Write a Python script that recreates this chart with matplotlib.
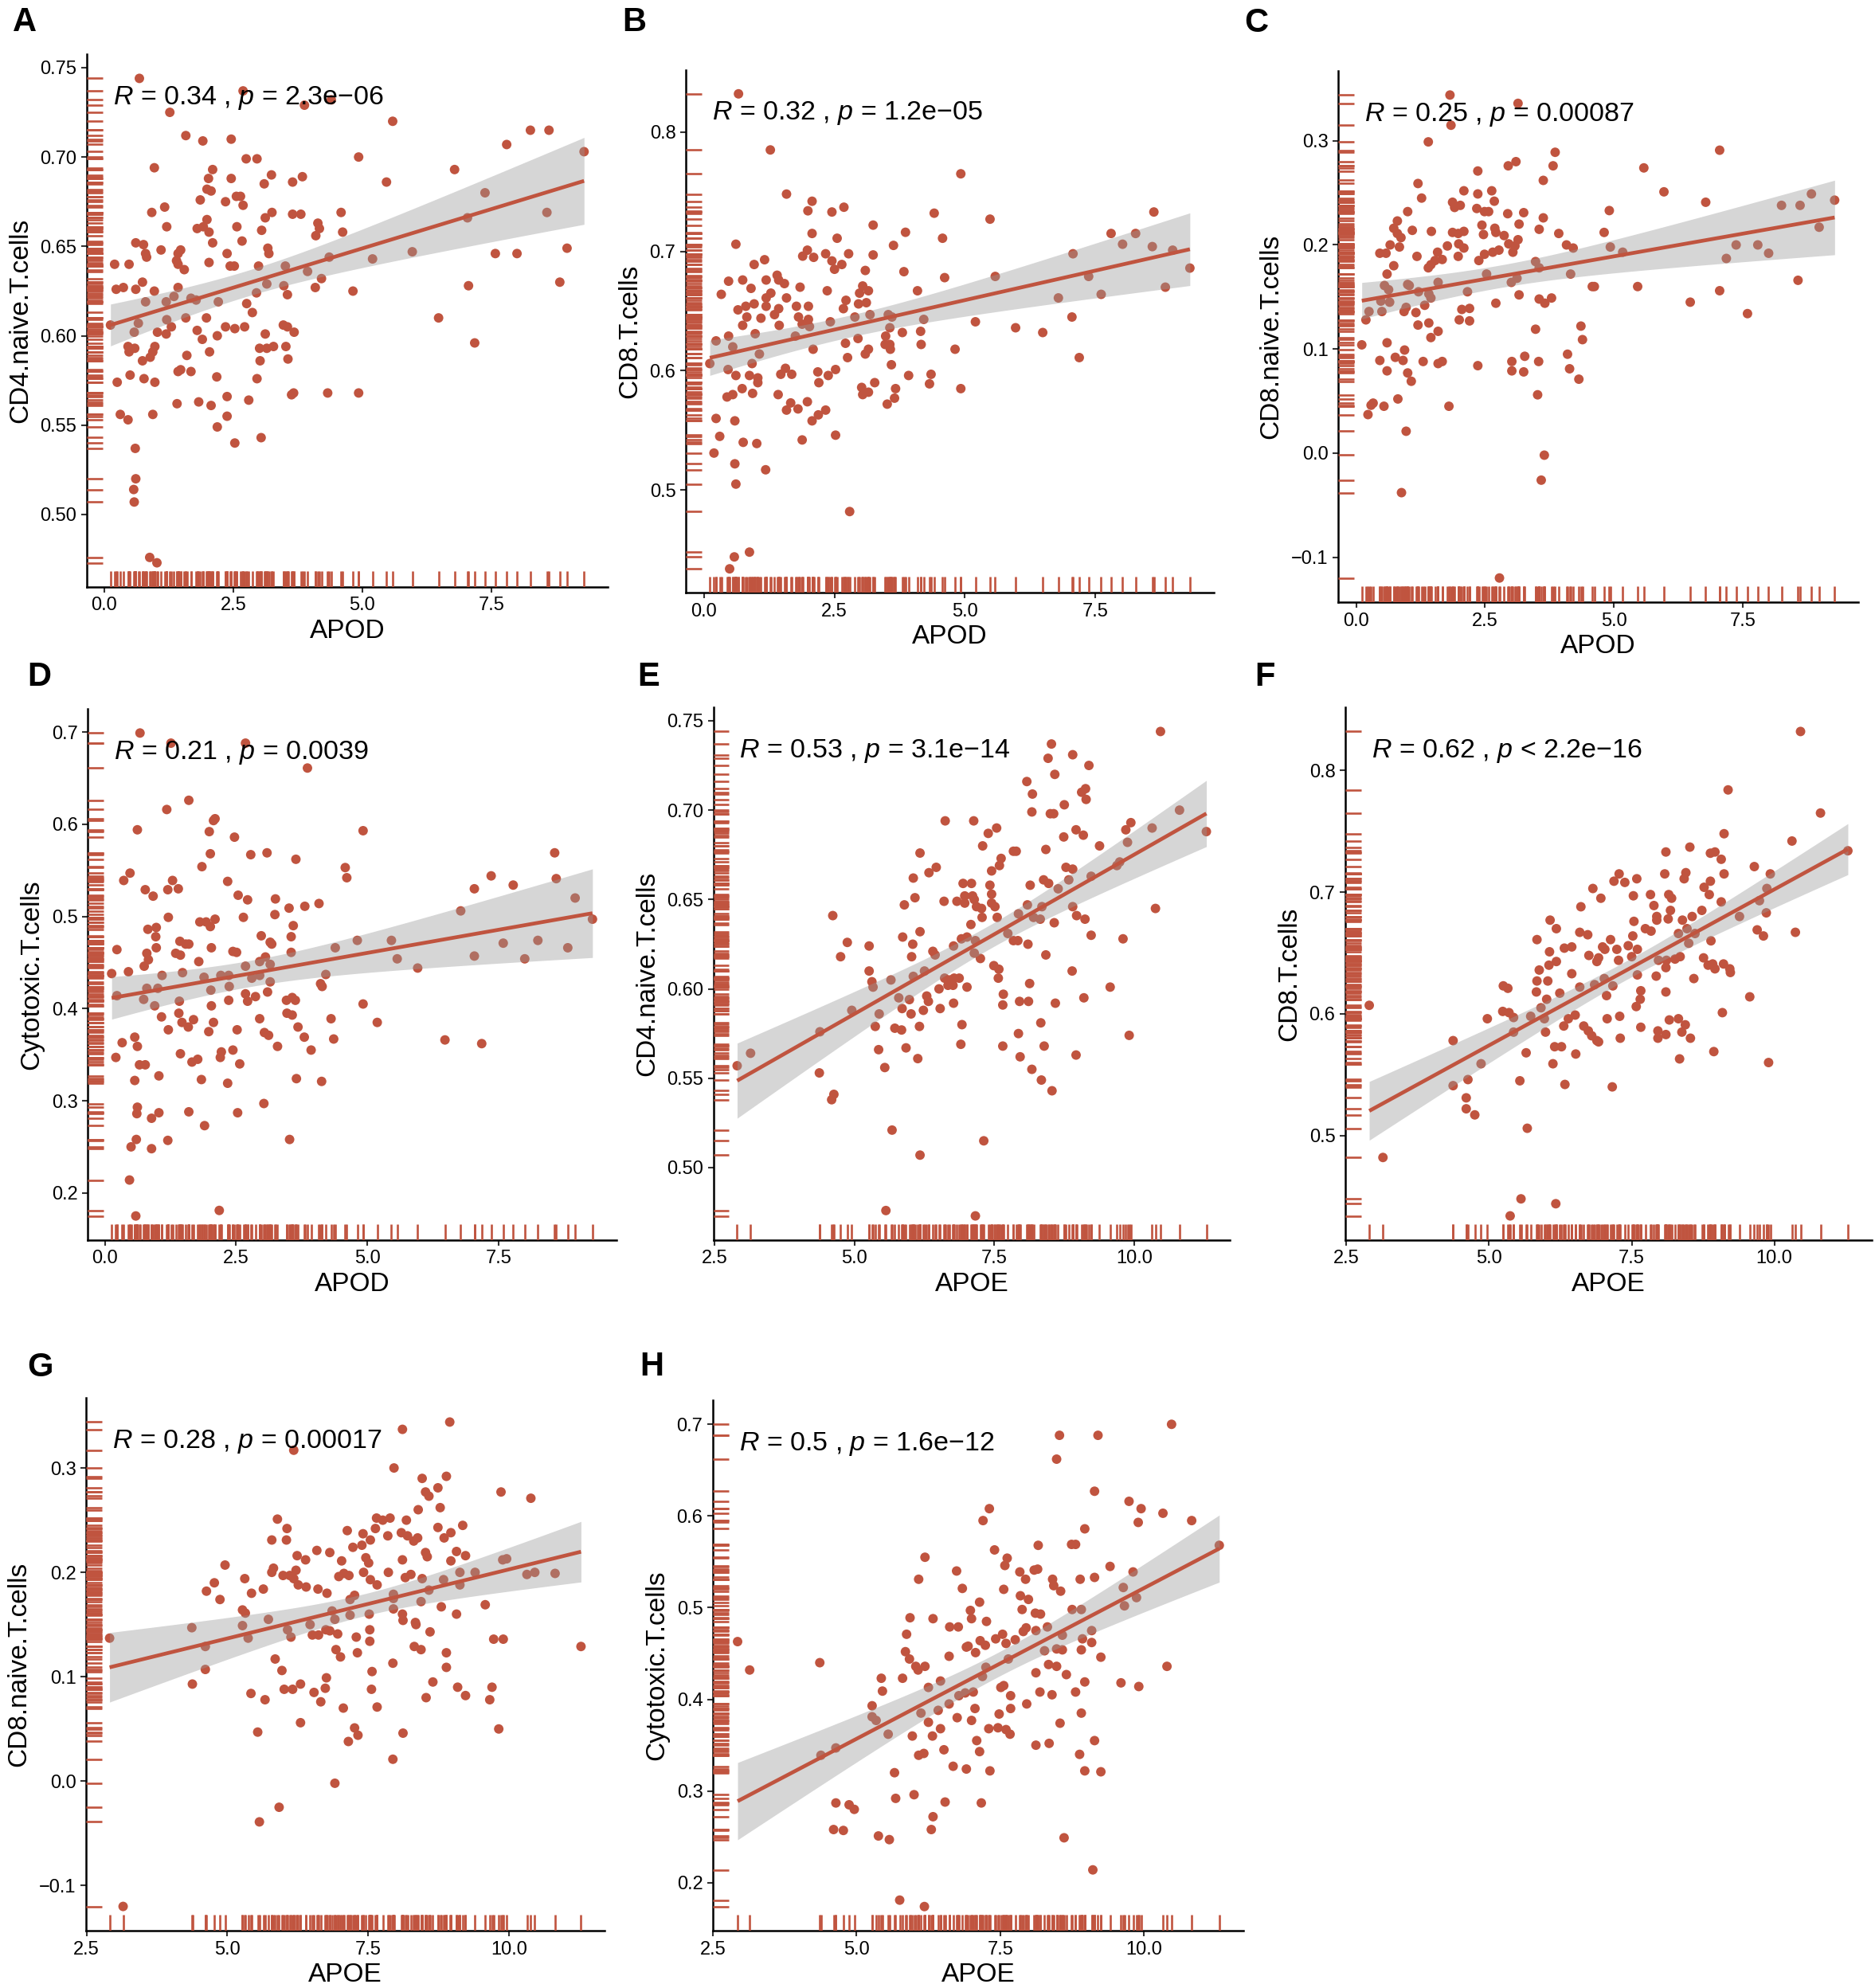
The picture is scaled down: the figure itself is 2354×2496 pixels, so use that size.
import numpy as np
import matplotlib
matplotlib.use('Agg')
import matplotlib.pyplot as plt

plt.rcParams['font.family'] = ['Liberation Sans', 'DejaVu Sans']
plt.rcParams['mathtext.fontset'] = 'custom'
plt.rcParams['mathtext.rm'] = 'Liberation Sans'
plt.rcParams['mathtext.it'] = 'Liberation Sans:italic'

# ---------------- data ----------------
panel_letters = ['A', 'B', 'C', 'D', 'E', 'F', 'G', 'H']
x_names = ['APOD', 'APOD', 'APOD', 'APOD', 'APOE', 'APOE', 'APOE', 'APOE']
y_names = ['CD4.naive.T.cells', 'CD8.T.cells', 'CD8.naive.T.cells', 'Cytotoxic.T.cells',
           'CD4.naive.T.cells', 'CD8.T.cells', 'CD8.naive.T.cells', 'Cytotoxic.T.cells']
stat_labels = [
    r'$R$ = 0.34 , $p$ = 2.3e−06',
    r'$R$ = 0.32 , $p$ = 1.2e−05',
    r'$R$ = 0.25 , $p$ = 0.00087',
    r'$R$ = 0.21 , $p$ = 0.0039',
    r'$R$ = 0.53 , $p$ = 3.1e−14',
    r'$R$ = 0.62 , $p$ < 2.2e−16',
    r'$R$ = 0.28 , $p$ = 0.00017',
    r'$R$ = 0.5 , $p$ = 1.6e−12',
]
x_ticks_apod = [0.0, 2.5, 5.0, 7.5]
x_ticklabels_apod = ['0.0', '2.5', '5.0', '7.5']
x_ticks_apoe = [2.5, 5.0, 7.5, 10.0]
x_ticklabels_apoe = ['2.5', '5.0', '7.5', '10.0']
y_ticks_cd4naive = [0.50, 0.55, 0.60, 0.65, 0.70, 0.75]
y_ticklabels_cd4naive = ['0.50', '0.55', '0.60', '0.65', '0.70', '0.75']
y_ticks_cd8 = [0.5, 0.6, 0.7, 0.8]
y_ticklabels_cd8 = ['0.5', '0.6', '0.7', '0.8']
y_ticks_cd8naive = [-0.1, 0.0, 0.1, 0.2, 0.3]
y_ticklabels_cd8naive = ['−0.1', '0.0', '0.1', '0.2', '0.3']
y_ticks_cyto = [0.2, 0.3, 0.4, 0.5, 0.6, 0.7]
y_ticklabels_cyto = ['0.2', '0.3', '0.4', '0.5', '0.6', '0.7']

apod_cd4naive = [
(0.68,0.744),(2.69,0.737),(3.88,0.729),(4.40,0.732),(1.27,0.725),(5.59,0.720),(8.26,0.715),(8.62,0.715),
(1.58,0.712),(1.91,0.709),(2.46,0.710),(7.80,0.707),(9.30,0.703),(4.93,0.700),(2.75,0.699),(2.96,0.699),
(0.97,0.694),(2.10,0.693),(6.79,0.693),(3.24,0.690),(2.02,0.688),(2.46,0.688),(3.84,0.689),(3.65,0.686),
(5.47,0.686),(3.10,0.685),(1.99,0.682),(2.07,0.681),(7.38,0.680),(1.86,0.676),(2.35,0.675),(2.56,0.678),
(2.64,0.678),(2.69,0.673),(1.17,0.672),(0.92,0.669),(3.25,0.669),(3.65,0.668),(3.81,0.668),(4.59,0.669),
(7.04,0.666),(8.58,0.669),(3.12,0.666),(1.99,0.665),(1.80,0.660),(1.92,0.661),(2.03,0.658),(1.21,0.661),
(2.57,0.661),(3.05,0.659),(4.14,0.663),(4.17,0.660),(4.10,0.656),(4.62,0.658),(2.10,0.652),(2.67,0.653),
(0.61,0.652),(0.76,0.651),(0.80,0.646),(0.82,0.644),(1.10,0.648),(1.48,0.648),(1.43,0.646),(2.38,0.646),
(3.17,0.649),(3.19,0.646),(8.97,0.649),(7.58,0.646),(8.00,0.646),(5.97,0.647),(5.20,0.643),(4.36,0.644),
(0.20,0.640),(0.48,0.640),(1.40,0.642),(1.43,0.640),(1.55,0.637),(2.03,0.641),(2.44,0.639),(2.52,0.639),
(2.99,0.639),(3.51,0.639),(3.94,0.636),(0.74,0.630),(8.83,0.630),(0.23,0.626),(0.37,0.627),(0.61,0.626),
(0.97,0.625),(1.43,0.627),(3.15,0.629),(3.48,0.628),(2.95,0.624),(3.55,0.623),(4.09,0.627),(4.21,0.632),
(4.82,0.625),(7.06,0.628),(0.80,0.619),(1.35,0.622),(1.20,0.619),(1.68,0.621),(1.78,0.620),(2.21,0.619),
(2.76,0.618),(2.87,0.613),(0.12,0.606),(0.66,0.607),(1.21,0.609),(1.58,0.610),(1.30,0.605),(1.98,0.610),
(2.35,0.605),(2.53,0.604),(2.72,0.605),(3.47,0.606),(3.55,0.605),(3.68,0.602),(3.12,0.601),(1.03,0.602),
(1.20,0.601),(1.80,0.603),(0.58,0.602),(2.19,0.600),(1.90,0.598),(6.48,0.610),(7.18,0.596),(0.46,0.594),
(0.48,0.591),(0.59,0.593),(0.98,0.594),(0.94,0.591),(3.01,0.593),(3.15,0.593),(3.28,0.594),(3.52,0.594),
(2.04,0.591),(0.74,0.586),(0.89,0.588),(1.60,0.589),(3.02,0.586),(3.56,0.587),(1.43,0.580),(1.48,0.581),
(1.68,0.580),(0.50,0.578),(0.77,0.576),(0.98,0.574),(0.25,0.574),(2.18,0.577),(2.96,0.576),(1.41,0.562),
(1.83,0.563),(2.07,0.561),(2.38,0.566),(2.80,0.564),(3.63,0.567),(3.67,0.568),(4.33,0.568),(4.93,0.568),
(0.31,0.556),(0.46,0.553),(0.94,0.556),(2.38,0.555),(2.19,0.549),(2.53,0.540),(3.04,0.543),(0.60,0.537),
(0.61,0.520),(0.57,0.514),(0.58,0.507),(0.88,0.476),(1.02,0.473)]

apod_cd8 = [
(0.66,0.832),(1.27,0.785),(4.92,0.765),(1.58,0.748),(2.07,0.742),(1.99,0.734),(2.45,0.733),(2.68,0.737),
(4.41,0.732),(5.48,0.727),(8.62,0.733),(3.24,0.722),(3.86,0.716),(2.07,0.715),(2.55,0.711),(4.57,0.711),
(7.80,0.715),(8.27,0.715),(0.61,0.706),(3.63,0.705),(8.02,0.706),(8.59,0.704),(8.98,0.701),(1.98,0.701),
(2.33,0.698),(2.77,0.698),(7.07,0.698),(1.89,0.696),(2.10,0.695),(3.24,0.697),(1.16,0.693),(2.45,0.692),
(2.64,0.689),(0.96,0.689),(2.50,0.685),(3.09,0.684),(3.83,0.683),(9.31,0.686),(0.47,0.675),(0.74,0.676),
(1.19,0.676),(1.40,0.680),(1.43,0.676),(1.54,0.673),(1.84,0.670),(0.90,0.669),(2.36,0.667),(3.04,0.671),
(3.15,0.667),(2.98,0.665),(4.09,0.667),(4.61,0.678),(5.58,0.679),(7.37,0.679),(8.84,0.670),(0.33,0.664),
(1.28,0.665),(1.19,0.661),(1.58,0.661),(6.79,0.661),(7.61,0.664),(2.72,0.659),(3.11,0.657),(2.96,0.656),
(0.65,0.651),(0.80,0.654),(0.96,0.656),(1.19,0.654),(1.43,0.652),(1.35,0.647),(1.77,0.654),(2.00,0.654),
(2.67,0.652),(0.82,0.645),(1.09,0.644),(1.81,0.645),(2.00,0.643),(2.89,0.645),(3.18,0.647),(3.53,0.647),
(3.60,0.645),(2.42,0.641),(4.21,0.643),(0.74,0.638),(1.44,0.638),(1.88,0.639),(2.02,0.637),(3.56,0.636),
(5.20,0.641),(5.97,0.636),(7.05,0.645),(0.98,0.631),(1.75,0.629),(3.48,0.629),(3.80,0.632),(4.15,0.633),
(6.49,0.632),(0.23,0.625),(0.47,0.629),(0.55,0.620),(2.71,0.623),(2.95,0.627),(3.47,0.622),(3.56,0.622),
(4.16,0.622),(2.09,0.618),(3.15,0.618),(3.09,0.614),(3.57,0.618),(1.06,0.614),(2.75,0.611),(4.81,0.618),
(7.19,0.611),(0.11,0.606),(0.92,0.606),(3.59,0.605),(0.46,0.601),(1.56,0.602),(2.52,0.601),(0.61,0.596),
(0.87,0.596),(1.03,0.594),(1.47,0.597),(1.68,0.597),(2.18,0.599),(2.38,0.596),(3.92,0.596),(4.35,0.597),
(1.03,0.590),(2.20,0.590),(3.27,0.590),(4.32,0.589),(0.73,0.585),(3.02,0.586),(3.67,0.585),(4.92,0.585),
(0.93,0.581),(3.04,0.580),(3.15,0.582),(1.42,0.580),(0.55,0.580),(0.44,0.578),(3.65,0.577),(1.98,0.574),
(1.66,0.573),(3.51,0.572),(1.58,0.567),(1.80,0.568),(2.33,0.567),(2.19,0.563),(2.07,0.558),(0.23,0.560),
(0.59,0.558),(0.30,0.545),(2.52,0.546),(1.88,0.542),(0.75,0.540),(1.01,0.539),(0.19,0.531),(0.59,0.522),
(1.18,0.517),(0.61,0.505),(2.79,0.482),(0.87,0.448),(0.58,0.444),(0.49,0.434)]

apod_cd8naive = [
(1.82,0.344),(3.14,0.336),(1.84,0.315),(1.40,0.299),(7.05,0.291),(3.86,0.289),(3.10,0.280),(2.95,0.276),
(3.82,0.276),(5.58,0.274),(2.36,0.271),(1.20,0.259),(3.63,0.262),(5.97,0.251),(8.83,0.249),(1.27,0.245),
(2.09,0.252),(2.36,0.249),(2.63,0.252),(2.68,0.242),(9.28,0.243),(6.78,0.241),(1.87,0.241),(2.02,0.238),
(1.91,0.236),(8.25,0.238),(8.61,0.238),(1.00,0.232),(2.34,0.235),(2.49,0.232),(2.57,0.232),(2.94,0.230),
(3.25,0.231),(4.91,0.233),(3.63,0.226),(0.80,0.223),(3.16,0.220),(2.44,0.219),(8.98,0.217),(0.73,0.216),
(1.09,0.214),(1.46,0.213),(2.69,0.216),(3.55,0.215),(2.71,0.212),(1.87,0.212),(1.98,0.211),(2.09,0.213),
(0.80,0.211),(0.87,0.207),(4.81,0.212),(3.93,0.211),(2.47,0.210),(2.87,0.209),(3.14,0.205),(0.66,0.200),
(0.84,0.198),(1.77,0.199),(1.99,0.201),(2.09,0.197),(2.96,0.201),(3.08,0.199),(4.08,0.200),(4.21,0.197),
(4.93,0.198),(7.37,0.200),(7.79,0.200),(0.46,0.192),(0.58,0.192),(1.58,0.193),(2.77,0.195),(2.65,0.193),
(2.49,0.191),(3.04,0.193),(5.17,0.193),(8.00,0.192),(1.18,0.189),(1.98,0.189),(1.53,0.185),(1.67,0.186),
(2.38,0.185),(7.18,0.187),(3.48,0.184),(3.55,0.178),(0.73,0.180),(1.40,0.178),(1.45,0.181),(0.60,0.172),
(2.53,0.172),(4.16,0.172),(1.59,0.164),(3.01,0.164),(3.12,0.168),(8.57,0.166),(0.55,0.161),(0.63,0.157),
(1.00,0.162),(1.03,0.161),(4.58,0.160),(4.62,0.160),(5.46,0.160),(1.21,0.155),(1.41,0.153),(2.16,0.155),
(7.05,0.156),(3.16,0.152),(0.48,0.146),(0.65,0.145),(1.45,0.149),(3.55,0.148),(3.79,0.149),(3.66,0.144),
(2.71,0.144),(6.48,0.145),(1.33,0.142),(0.25,0.136),(0.50,0.136),(0.97,0.140),(0.93,0.136),(1.16,0.135),
(2.05,0.138),(2.20,0.139),(7.59,0.134),(0.19,0.128),(2.00,0.128),(2.20,0.127),(1.20,0.123),(1.41,0.125),
(4.36,0.122),(3.48,0.119),(1.59,0.117),(1.45,0.111),(4.39,0.109),(0.60,0.106),(0.11,0.104),(0.94,0.099),
(4.10,0.095),(3.27,0.093),(0.46,0.089),(0.76,0.092),(0.91,0.089),(1.30,0.088),(1.67,0.088),(1.59,0.086),
(3.02,0.088),(3.54,0.088),(2.36,0.084),(0.60,0.079),(3.02,0.079),(3.25,0.078),(4.14,0.081),(1.00,0.077),
(1.07,0.069),(4.32,0.071),(3.52,0.056),(0.81,0.052),(0.33,0.048),(0.54,0.045),(0.29,0.046),(1.80,0.045),
(0.23,0.037),(0.97,0.021),(3.65,-0.002),(3.59,-0.026),(0.88,-0.038),(2.78,-0.120)]

apod_cyto = [
(0.67,0.699),(1.26,0.688),(2.68,0.688),(3.86,0.661),(1.60,0.626),(1.18,0.616),(2.10,0.606),(2.07,0.604),
(0.62,0.594),(4.92,0.593),(1.99,0.592),(2.47,0.586),(2.01,0.568),(3.09,0.569),(2.78,0.567),(3.64,0.562),
(8.57,0.569),(1.85,0.554),(4.58,0.553),(4.61,0.542),(0.48,0.547),(0.36,0.539),(1.29,0.539),(2.34,0.538),
(7.36,0.544),(8.60,0.541),(0.77,0.529),(1.20,0.529),(1.40,0.530),(7.04,0.530),(7.78,0.534),(0.92,0.522),
(2.54,0.523),(2.72,0.518),(3.25,0.519),(8.96,0.520),(3.51,0.509),(3.81,0.511),(4.08,0.514),(6.78,0.506),
(3.24,0.502),(1.21,0.499),(2.64,0.499),(2.10,0.497),(1.81,0.494),(1.93,0.494),(2.01,0.489),(9.29,0.497),
(3.59,0.490),(0.82,0.486),(0.98,0.488),(0.97,0.478),(2.98,0.479),(3.55,0.478),(1.43,0.473),(1.54,0.470),
(1.60,0.470),(3.15,0.472),(3.18,0.470),(4.81,0.474),(5.46,0.474),(7.59,0.471),(8.25,0.474),(0.23,0.464),
(0.98,0.466),(2.03,0.466),(2.44,0.462),(2.51,0.461),(3.55,0.461),(4.39,0.466),(8.82,0.466),(0.80,0.460),
(1.35,0.460),(1.44,0.458),(3.06,0.456),(7.04,0.457),(5.57,0.454),(8.00,0.454),(0.83,0.453),(1.79,0.451),
(2.95,0.451),(0.75,0.446),(2.68,0.446),(3.15,0.448),(5.96,0.444),(0.45,0.440),(0.13,0.438),(1.48,0.439),
(1.09,0.436),(1.89,0.434),(2.21,0.436),(2.36,0.436),(2.80,0.433),(2.95,0.436),(4.21,0.437),(3.15,0.429),
(4.11,0.427),(4.14,0.424),(0.80,0.422),(1.01,0.422),(2.02,0.420),(2.37,0.424),(0.23,0.414),(2.68,0.416),
(2.87,0.413),(3.10,0.418),(0.74,0.410),(1.42,0.408),(2.36,0.409),(2.72,0.408),(3.46,0.409),(3.57,0.412),
(3.63,0.409),(0.95,0.403),(2.03,0.403),(4.92,0.405),(3.47,0.395),(1.41,0.395),(3.57,0.393),(1.08,0.391),
(1.69,0.388),(2.95,0.389),(4.31,0.389),(1.47,0.385),(2.07,0.385),(5.19,0.385),(1.59,0.380),(3.68,0.380),
(1.21,0.377),(2.52,0.377),(1.98,0.375),(3.04,0.374),(3.12,0.371),(0.57,0.369),(3.80,0.369),(4.36,0.367),
(6.48,0.366),(7.18,0.362),(0.33,0.363),(0.62,0.359),(3.29,0.359),(3.93,0.355),(2.44,0.355),(2.22,0.353),
(1.44,0.351),(0.21,0.347),(2.20,0.347),(1.77,0.345),(1.66,0.342),(2.57,0.340),(0.66,0.339),(0.77,0.339),
(1.03,0.327),(0.57,0.322),(1.84,0.323),(3.65,0.324),(4.13,0.321),(2.34,0.319),(3.03,0.297),(0.62,0.293),
(0.61,0.286),(1.60,0.288),(1.03,0.287),(2.53,0.287),(0.89,0.281),(1.90,0.273),(1.20,0.257),(0.60,0.258),
(3.52,0.258),(0.50,0.250),(0.89,0.248),(0.47,0.214),(2.18,0.181),(0.59,0.175)]

apoe_cd4naive = [
(10.47,0.744),(8.52,0.737),(8.90,0.731),(8.46,0.729),(9.19,0.725),(8.58,0.720),(8.08,0.716),(9.13,0.712),
(8.18,0.709),(9.06,0.710),(9.14,0.706),(8.75,0.703),(8.17,0.699),(8.50,0.698),(8.56,0.698),(10.81,0.700),
(6.62,0.694),(7.13,0.694),(9.94,0.693),(7.54,0.690),(7.39,0.687),(8.96,0.689),(9.09,0.686),(8.74,0.685),
(9.85,0.689),(10.32,0.690),(11.29,0.688),(9.88,0.682),(7.29,0.680),(9.38,0.680),(8.42,0.678),(7.84,0.677),
(7.89,0.677),(6.17,0.676),(7.62,0.673),(7.59,0.669),(8.78,0.668),(8.90,0.667),(9.69,0.669),(9.74,0.671),
(6.46,0.668),(6.33,0.665),(7.45,0.666),(6.05,0.662),(9.23,0.663),(8.38,0.661),(8.47,0.659),(8.83,0.661),
(6.94,0.659),(7.09,0.659),(7.42,0.658),(8.14,0.658),(8.64,0.656),(6.08,0.651),(6.97,0.652),(7.11,0.652),
(7.45,0.653),(6.60,0.649),(6.83,0.649),(6.97,0.648),(7.14,0.650),(7.45,0.648),(7.51,0.646),(7.18,0.646),
(7.27,0.645),(5.89,0.647),(8.09,0.647),(8.35,0.646),(8.90,0.646),(10.38,0.645),(4.61,0.641),(7.28,0.640),
(7.55,0.640),(7.93,0.642),(8.20,0.640),(8.32,0.639),(8.97,0.641),(9.12,0.639),(8.57,0.637),(7.08,0.636),
(6.17,0.632),(7.74,0.631),(5.86,0.629),(6.91,0.628),(7.01,0.629),(9.23,0.630),(9.80,0.628),(4.87,0.626),
(7.16,0.627),(7.84,0.627),(7.92,0.627),(6.04,0.625),(5.26,0.624),(6.77,0.624),(8.10,0.625),(6.40,0.621),
(6.44,0.619),(7.14,0.620),(4.75,0.618),(6.02,0.618),(7.25,0.617),(8.42,0.619),(7.49,0.613),(5.26,0.610),
(7.58,0.611),(8.89,0.610),(5.31,0.604),(5.33,0.601),(5.65,0.605),(6.05,0.607),(6.25,0.610),(6.61,0.606),
(6.70,0.605),(6.78,0.606),(6.87,0.606),(6.67,0.602),(6.76,0.602),(6.51,0.600),(7.01,0.601),(7.57,0.606),
(8.13,0.603),(9.57,0.601),(5.79,0.595),(5.98,0.594),(6.29,0.596),(6.32,0.593),(7.66,0.597),(9.10,0.595),
(5.85,0.589),(4.95,0.588),(5.44,0.586),(6.01,0.586),(6.23,0.588),(6.53,0.589),(6.77,0.592),(7.65,0.591),
(7.95,0.593),(8.11,0.593),(8.59,0.592),(4.38,0.576),(5.37,0.579),(5.72,0.578),(5.84,0.577),(6.16,0.579),
(6.92,0.580),(8.33,0.581),(7.93,0.575),(9.91,0.574),(6.90,0.569),(7.65,0.568),(8.39,0.568),(5.43,0.566),
(5.92,0.567),(3.14,0.564),(7.96,0.562),(8.96,0.563),(6.13,0.561),(2.90,0.557),(5.54,0.556),(8.17,0.555),
(4.37,0.553),(8.34,0.549),(8.53,0.543),(4.63,0.541),(4.59,0.538),(5.67,0.521),(7.31,0.515),(6.17,0.507),
(5.56,0.476),(7.16,0.473)]

apoe_cd8 = [
(10.46,0.832),(9.19,0.784),(10.81,0.765),(9.12,0.748),(10.31,0.742),(8.52,0.737),(8.10,0.733),(8.88,0.732),
(8.96,0.733),(11.29,0.734),(9.07,0.727),(9.65,0.721),(7.28,0.715),(8.08,0.715),(8.45,0.716),(9.12,0.715),
(9.93,0.715),(7.19,0.709),(7.38,0.708),(8.42,0.711),(7.59,0.711),(8.88,0.709),(6.82,0.703),(8.77,0.704),
(9.87,0.703),(7.83,0.698),(8.15,0.698),(8.86,0.698),(7.53,0.697),(6.96,0.695),(8.20,0.695),(9.07,0.692),
(9.74,0.693),(6.61,0.688),(7.89,0.689),(8.73,0.685),(8.18,0.685),(7.94,0.680),(7.94,0.677),(8.14,0.678),
(8.56,0.680),(8.39,0.677),(9.39,0.680),(9.86,0.683),(6.07,0.677),(7.54,0.676),(6.18,0.670),(7.74,0.670),
(7.84,0.668),(6.59,0.667),(6.73,0.665),(8.32,0.666),(8.47,0.670),(8.61,0.666),(9.70,0.669),(9.81,0.664),
(10.37,0.667),(7.52,0.664),(5.84,0.661),(7.13,0.661),(8.89,0.660),(8.50,0.658),(6.99,0.655),(7.03,0.653),
(7.44,0.656),(7.24,0.653),(6.32,0.654),(6.45,0.655),(6.06,0.651),(7.60,0.653),(6.75,0.648),(6.92,0.646),
(6.89,0.643),(7.27,0.644),(7.50,0.647),(7.97,0.644),(8.11,0.644),(8.26,0.645),(8.35,0.647),(8.76,0.646),
(8.92,0.641),(6.18,0.643),(6.05,0.640),(8.10,0.638),(8.84,0.640),(9.11,0.641),(8.96,0.637),(9.22,0.637),
(9.23,0.634),(5.88,0.636),(6.45,0.633),(7.60,0.632),(7.93,0.631),(8.59,0.629),(5.84,0.627),(6.03,0.627),
(7.02,0.629),(6.85,0.624),(7.17,0.623),(5.25,0.623),(5.33,0.621),(6.59,0.622),(5.83,0.618),(6.24,0.617),
(7.66,0.619),(8.10,0.618),(9.57,0.614),(7.06,0.615),(6.01,0.612),(7.65,0.612),(5.91,0.605),(7.58,0.606),
(5.24,0.602),(5.35,0.601),(5.43,0.597),(4.97,0.596),(5.73,0.598),(5.97,0.596),(6.39,0.596),(6.51,0.599),
(7.29,0.598),(7.07,0.596),(9.09,0.601),(8.16,0.595),(8.32,0.596),(6.31,0.590),(6.66,0.590),(7.66,0.589),
(8.44,0.591),(5.43,0.585),(5.99,0.585),(6.74,0.586),(7.96,0.586),(8.38,0.585),(6.80,0.582),(7.96,0.580),
(8.10,0.583),(6.89,0.578),(6.92,0.577),(7.30,0.580),(8.53,0.580),(4.37,0.578),(6.15,0.573),(6.27,0.573),
(5.65,0.568),(6.52,0.567),(8.94,0.569),(8.34,0.563),(9.90,0.560),(4.86,0.559),(6.12,0.559),(4.63,0.546),
(5.54,0.545),(4.37,0.541),(6.33,0.542),(7.16,0.540),(4.60,0.531),(4.60,0.522),(4.75,0.517),(2.90,0.607),
(5.67,0.506),(3.14,0.482),(5.56,0.448),(6.17,0.444),(5.37,0.434)]

apoe_cd8naive = [
(8.95,0.344),(8.11,0.337),(6.18,0.317),(7.96,0.300),(8.46,0.290),(8.89,0.292),(8.74,0.281),(8.52,0.277),
(8.58,0.273),(9.86,0.277),(10.39,0.271),(8.78,0.262),(8.39,0.260),(5.89,0.251),(7.65,0.252),(7.76,0.250),
(7.89,0.252),(8.18,0.250),(6.06,0.242),(7.63,0.242),(7.13,0.240),(8.74,0.243),(9.18,0.245),(8.97,0.238),
(7.41,0.237),(7.85,0.235),(8.09,0.238),(8.20,0.235),(8.38,0.233),(8.31,0.230),(8.85,0.233),(5.79,0.231),
(6.05,0.231),(7.54,0.231),(7.39,0.226),(7.23,0.224),(6.59,0.221),(6.82,0.219),(8.52,0.219),(9.07,0.220),
(6.24,0.216),(9.23,0.216),(6.39,0.212),(7.46,0.214),(7.03,0.211),(8.55,0.215),(8.11,0.212),(8.97,0.211),
(9.89,0.212),(9.96,0.213),(4.96,0.207),(7.51,0.209),(5.82,0.204),(6.22,0.202),(7.42,0.200),(7.86,0.200),
(7.07,0.199),(7.16,0.197),(5.79,0.200),(5.99,0.197),(6.11,0.197),(6.98,0.196),(8.26,0.198),(8.16,0.195),
(9.13,0.200),(9.40,0.200),(10.32,0.198),(10.46,0.200),(10.82,0.199),(6.18,0.194),(7.54,0.193),(5.31,0.194),
(8.46,0.194),(8.84,0.193),(4.77,0.190),(6.26,0.188),(7.66,0.188),(9.13,0.188),(6.40,0.186),(6.61,0.184),
(5.64,0.184),(4.63,0.182),(8.58,0.183),(5.43,0.180),(6.77,0.180),(7.26,0.178),(7.95,0.179),(7.95,0.175),
(7.18,0.174),(8.44,0.172),(4.87,0.174),(9.58,0.169),(8.80,0.167),(5.27,0.164),(5.32,0.161),(7.95,0.165),
(9.07,0.160),(6.86,0.163),(7.52,0.160),(8.11,0.160),(8.12,0.154),(7.18,0.159),(5.73,0.155),(6.91,0.155),
(8.34,0.152),(8.35,0.150),(6.47,0.150),(4.37,0.147),(5.27,0.149),(6.07,0.145),(6.75,0.145),(6.82,0.144),
(7.53,0.145),(6.96,0.141),(8.60,0.143),(6.51,0.140),(6.62,0.140),(6.13,0.138),(5.37,0.137),(7.29,0.138),
(9.73,0.136),(9.90,0.136),(7.53,0.134),(2.91,0.137),(4.61,0.129),(8.32,0.129),(8.44,0.126),(11.28,0.129),
(6.93,0.126),(7.31,0.123),(7.01,0.119),(8.89,0.123),(5.85,0.117),(7.94,0.113),(4.61,0.107),(5.97,0.106),
(7.57,0.105),(8.89,0.109),(6.76,0.099),(8.65,0.095),(4.38,0.093),(6.30,0.093),(6.01,0.088),(6.16,0.088),
(6.74,0.089),(7.56,0.088),(9.09,0.090),(9.70,0.090),(5.42,0.084),(6.54,0.085),(9.23,0.082),(8.53,0.080),
(5.67,0.078),(6.66,0.076),(9.66,0.078),(7.06,0.070),(7.66,0.071),(6.30,0.056),(7.26,0.051),(7.32,0.044),
(5.54,0.047),(8.12,0.046),(9.82,0.050),(7.15,0.038),(7.94,0.021),(6.91,-0.002),(5.92,-0.025),(5.57,-0.039),
(3.15,-0.120)]

apoe_cyto = [
(10.48,0.700),(8.53,0.688),(9.20,0.688),(8.48,0.662),(9.14,0.627),(9.74,0.616),(7.31,0.608),(9.95,0.608),
(7.20,0.595),(10.33,0.603),(10.83,0.595),(9.90,0.593),(8.97,0.586),(8.16,0.568),(8.74,0.569),(8.81,0.569),
(11.31,0.568),(7.40,0.563),(6.19,0.555),(7.62,0.554),(7.58,0.546),(9.41,0.545),(8.09,0.541),(8.15,0.542),
(6.74,0.540),(7.84,0.539),(9.81,0.539),(6.08,0.531),(7.94,0.531),(8.41,0.531),(8.89,0.531),(9.14,0.533),
(8.43,0.524),(8.55,0.518),(6.84,0.521),(7.56,0.520),(9.64,0.522),(7.85,0.513),(7.99,0.509),(7.14,0.506),
(9.87,0.511),(9.66,0.502),(7.88,0.498),(8.75,0.498),(8.91,0.498),(6.98,0.497),(8.11,0.494),(8.20,0.493),
(5.93,0.489),(6.33,0.488),(7.00,0.488),(7.26,0.485),(6.62,0.479),(6.77,0.479),(7.95,0.478),(8.32,0.479),
(7.90,0.474),(8.12,0.475),(9.09,0.475),(5.87,0.471),(7.54,0.471),(8.58,0.470),(7.42,0.466),(7.76,0.465),
(8.93,0.466),(7.15,0.464),(7.60,0.461),(7.24,0.459),(2.93,0.463),(9.09,0.462),(6.94,0.458),(6.91,0.457),
(7.07,0.451),(5.85,0.452),(8.27,0.453),(8.48,0.455),(8.58,0.454),(8.91,0.454),(9.25,0.446),(5.92,0.444),
(6.61,0.447),(7.64,0.444),(4.36,0.440),(8.34,0.438),(8.48,0.436),(10.40,0.436),(6.03,0.436),(6.19,0.436),
(6.07,0.432),(3.14,0.432),(7.25,0.435),(8.65,0.427),(8.12,0.429),(7.19,0.425),(5.80,0.423),(5.43,0.423),
(6.46,0.420),(8.97,0.419),(9.60,0.418),(9.91,0.414),(6.25,0.413),(7.51,0.413),(7.56,0.415),(5.45,0.409),
(7.03,0.408),(6.89,0.407),(6.78,0.404),(8.19,0.408),(8.40,0.405),(8.81,0.408),(7.68,0.404),(7.96,0.395),
(5.27,0.393),(6.61,0.395),(7.06,0.390),(7.68,0.390),(6.42,0.388),(6.12,0.385),(8.91,0.385),(7.48,0.384),
(5.27,0.381),(5.34,0.377),(6.75,0.380),(7.00,0.377),(6.25,0.375),(8.54,0.374),(6.46,0.368),(7.30,0.368),
(7.46,0.369),(7.60,0.367),(7.67,0.362),(5.55,0.362),(5.97,0.360),(6.32,0.360),(7.09,0.355),(9.14,0.355),
(8.12,0.350),(8.35,0.352),(4.64,0.347),(6.52,0.345),(7.14,0.343),(6.17,0.341),(6.08,0.339),(4.38,0.339),
(8.88,0.340),(6.68,0.327),(6.91,0.324),(7.32,0.322),(8.97,0.322),(9.25,0.321),(5.66,0.320),(6.00,0.296),
(5.68,0.292),(6.54,0.288),(7.17,0.287),(4.64,0.287),(4.87,0.285),(4.96,0.280),(6.33,0.272),(4.60,0.258),
(4.77,0.257),(6.30,0.258),(5.38,0.251),(5.57,0.247),(8.61,0.249),(9.11,0.214),(5.75,0.181),(6.18,0.174)]

# ---------------- drawing ----------------
W, H = 2354, 2496
fig = plt.figure(figsize=(W / 100, H / 100), dpi=100)

RED = '#C0543F'
T_CRIT = 1.973

panels = [apod_cd4naive, apod_cd8, apod_cd8naive, apod_cyto,
          apoe_cd4naive, apoe_cd8, apoe_cd8naive, apoe_cyto]
x_tick_sets = [(x_ticks_apod, x_ticklabels_apod)] * 4 + [(x_ticks_apoe, x_ticklabels_apoe)] * 4
y_tick_sets = [(y_ticks_cd4naive, y_ticklabels_cd4naive), (y_ticks_cd8, y_ticklabels_cd8),
               (y_ticks_cd8naive, y_ticklabels_cd8naive), (y_ticks_cyto, y_ticklabels_cyto),
               (y_ticks_cd4naive, y_ticklabels_cd4naive), (y_ticks_cd8, y_ticklabels_cd8),
               (y_ticks_cd8naive, y_ticklabels_cd8naive), (y_ticks_cyto, y_ticklabels_cyto)]

# panel boxes in pixels: left, top, right, bottom
boxes = [(109, 68, 763, 737), (861, 88, 1524, 744), (1680, 89, 2333, 756),
         (110, 890, 774, 1557), (896, 888, 1544, 1557), (1689, 888, 2350, 1557),
         (108, 1755, 759, 2424), (895, 1758, 1561, 2424)]
letter_pos = [(16, 39), (781, 39), (1562, 40), (34, 861), (800, 861), (1575, 861),
              (34, 1728), (803, 1727)]


def expand(v, frac=0.05):
    lo, hi = np.min(v), np.max(v)
    r = hi - lo
    return lo - frac * r, hi + frac * r


for i, pts in enumerate(panels):
    L, T, R, B = boxes[i]
    ax = fig.add_axes([L / W, 1 - B / H, (R - L) / W, (B - T) / H])
    arr = np.array(pts, dtype=float)
    x, y = arr[:, 0], arr[:, 1]

    ax.scatter(x, y, s=74, color=RED, edgecolors='none', zorder=2)

    # linear fit with 95% confidence band
    n = len(x)
    xb = x.mean()
    sxx = ((x - xb) ** 2).sum()
    b = ((x - xb) * (y - y.mean())).sum() / sxx
    a = y.mean() - b * xb
    s = np.sqrt(((y - (a + b * x)) ** 2).sum() / (n - 2))
    xs = np.linspace(x.min(), x.max(), 120)
    yh = a + b * xs
    se = s * np.sqrt(1.0 / n + (xs - xb) ** 2 / sxx)
    ax.fill_between(xs, yh - T_CRIT * se, yh + T_CRIT * se, color='#999999',
                    alpha=0.4, lw=0, zorder=3)
    ax.plot(xs, yh, color=RED, lw=3.4, zorder=4, solid_capstyle='butt')

    # rugs
    ax.vlines(x, 0, 0.03, transform=ax.get_xaxis_transform(), color=RED, lw=1.9, zorder=5)
    ax.hlines(y, 0, 0.03, transform=ax.get_yaxis_transform(), color=RED, lw=1.9, zorder=5)

    ax.set_xlim(*expand(x))
    ax.set_ylim(*expand(y))

    xt, xtl = x_tick_sets[i]
    yt, ytl = y_tick_sets[i]
    ax.set_xticks(xt)
    ax.set_xticklabels(xtl)
    ax.set_yticks(yt)
    ax.set_yticklabels(ytl)

    for side in ('top', 'right'):
        ax.spines[side].set_visible(False)
    for side in ('left', 'bottom'):
        ax.spines[side].set_linewidth(1.8)
        ax.spines[side].set_color('black')
    ax.tick_params(axis='both', length=5, width=1.5, color='#333333',
                   labelsize=17, labelcolor='black', pad=4)

    ax.set_xlabel(x_names[i], fontsize=24, labelpad=4)
    ax.set_ylabel(y_names[i], fontsize=24, labelpad=7)

    ax.text(0.05, 0.918, stat_labels[i], transform=ax.transAxes, fontsize=24.5,
            ha='left', va='center', zorder=6)

    lx, ly = letter_pos[i]
    fig.text(lx / W, 1 - ly / H, panel_letters[i], fontsize=30, fontweight='bold',
             ha='left', va='baseline')

fig.savefig('out.png', dpi=100)
